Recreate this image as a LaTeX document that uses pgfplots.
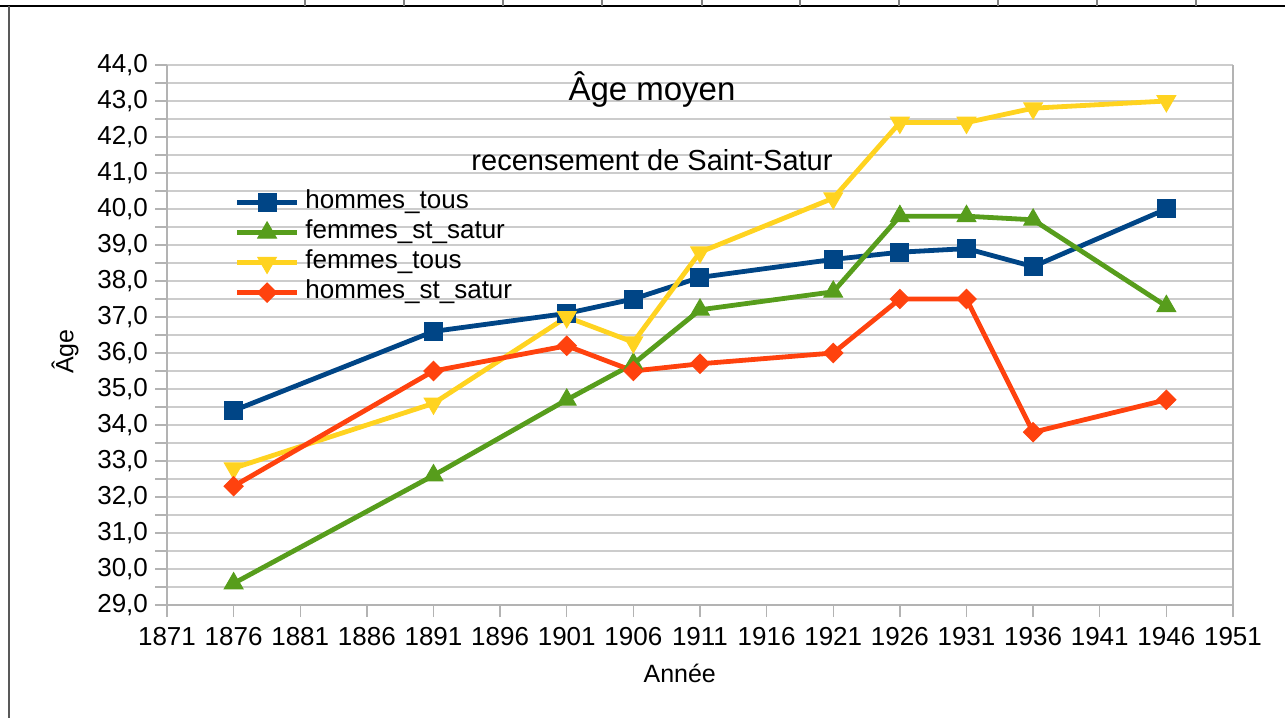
\documentclass[border=0pt]{standalone}
\usepackage{fontspec}
\setmainfont{Liberation Sans}
\usepackage{pgfplots}
\pgfplotsset{compat=1.18}
\definecolor{cblue}{HTML}{004586}
\definecolor{cgreen}{HTML}{579D1C}
\definecolor{cyellow}{HTML}{FFD320}
\definecolor{cred}{HTML}{FF420E}
\definecolor{gridc}{HTML}{CCCCCC}
\definecolor{axc}{HTML}{B3B3B3}
\begin{document}
\begin{tikzpicture}
\path[use as bounding box] (-83.5pt,-56.5pt) rectangle (559pt,302.5pt);
\draw[black, line width=0.9pt] (-83.5pt,299.5pt) -- (559pt,299.5pt);
\draw[gray!70!black, line width=1pt] (-79pt,299.5pt) -- (-79pt,-56.5pt);
\foreach \xx in {69,118.5,168,217.5,267.5,316.5,366,415.5,465,514.5}{
  \draw[gray, line width=0.6pt] (\xx pt,299.5pt) -- (\xx pt,302.5pt);
}
\begin{axis}[
  at={(0,0)}, anchor=south west,
  width=533pt, height=270pt, scale only axis,
  xmin=1871, xmax=1951, ymin=29, ymax=44,
  xtick={1871,1876,...,1951},
  ytick={29,30,...,44},
  minor ytick={29.5,30.5,...,43.5},
  ymajorgrids, yminorgrids,
  grid style={gridc, line width=0.6pt},
  minor grid style={gridc, line width=0.6pt},
  axis line style={axc, line width=0.7pt},
  axis x line*=bottom, axis y line*=left,
  tick style={axc, line width=0.7pt},
  tick align=outside,
  major tick length=6pt, minor tick length=6pt,
  xtick pos=bottom, ytick pos=left,
  /pgf/number format/assume math mode=true,
  tick label style={font=\fontsize{13}{15}\selectfont},
  xticklabel style={/pgf/number format/set thousands separator={}, yshift=-1.5pt},
  yticklabel style={/pgf/number format/.cd, fixed, fixed zerofill, precision=1, use comma},
  xlabel={Année},
  ylabel={Âge},
  label style={font=\fontsize{12.5}{14}\selectfont},
  xlabel style={at={(axis description cs:0.481,-0.126)}, anchor=center},
  ylabel style={at={(axis description cs:-0.0957,0.469)}, anchor=center, rotate=0},
  clip=false,
  legend style={at={(rel axis cs:0.0575,0.781)}, anchor=north west, draw=none, fill=none,
    font=\fontsize{13}{15}\selectfont,
    nodes={text height=9pt, text depth=3pt, inner ysep=1.5pt, inner xsep=3pt}},
  legend cell align=left,
  legend image code/.code={\draw[mark repeat=2,mark phase=2] plot coordinates {(0pt,0pt)(15pt,0pt)(30pt,0pt)};},
]
\addplot[cblue, line width=2.4pt, mark=square*, mark size=4.5pt, mark options={solid, line width=0.5pt}] coordinates {
(1876,34.4) (1891,36.6) (1901,37.1) (1906,37.5) (1911,38.1) (1921,38.6) (1926,38.8) (1931,38.9) (1936,38.4) (1946,40.0)};
\addlegendentry{hommes\_tous}
\addplot[cgreen, line width=2.4pt, mark=triangle*, mark size=5.4pt, mark options={solid, line width=0.5pt}] coordinates {
(1876,29.6) (1891,32.6) (1901,34.7) (1906,35.7) (1911,37.2) (1921,37.7) (1926,39.8) (1931,39.8) (1936,39.7) (1946,37.3)};
\addlegendentry{femmes\_st\_satur}
\addplot[cyellow, line width=2.4pt, mark=triangle*, mark size=5.4pt, mark options={solid, line width=0.5pt, rotate=180}] coordinates {
(1876,32.8) (1891,34.6) (1901,37.0) (1906,36.3) (1911,38.8) (1921,40.3) (1926,42.4) (1931,42.4) (1936,42.8) (1946,43.0)};
\addlegendentry{femmes\_tous}
\addplot[cred, line width=2.4pt, mark=square*, mark size=3.4pt, mark options={solid, line width=0.5pt, rotate=45}] coordinates {
(1876,32.3) (1891,35.5) (1901,36.2) (1906,35.5) (1911,35.7) (1921,36.0) (1926,37.5) (1931,37.5) (1936,33.8) (1946,34.7)};
\addlegendentry{hommes\_st\_satur}
\draw[axc, line width=0.7pt] (rel axis cs:1,0) -- (rel axis cs:1,1);
\node[font=\fontsize{16.5}{18}\selectfont] at (rel axis cs:0.455,0.954) {Âge moyen};
\node[font=\fontsize{14.5}{16}\selectfont] at (rel axis cs:0.455,0.824) {recensement de Saint-Satur};
\end{axis}
\end{tikzpicture}
\end{document}
